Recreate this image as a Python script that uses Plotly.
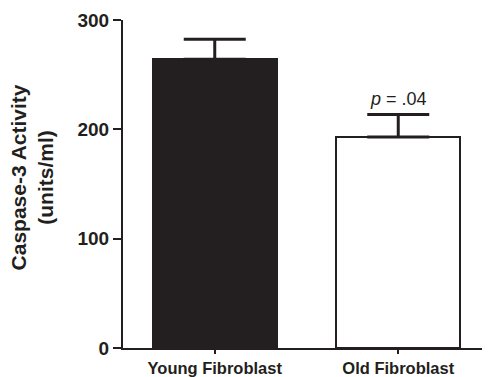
import plotly.graph_objects as go

categories = ["Young Fibroblast", "Old Fibroblast"]
means = [264, 193]
errors = [18.5, 20.5]
bar_colors = ["#231f20", "#ffffff"]
y_ticks = [0, 100, 200, 300]
p_label = "<i>p</i> = .04"

FONT = "Liberation Sans, Arial, Helvetica, sans-serif"
INK = "#231f20"

fig = go.Figure()
fig.add_trace(go.Bar(
    x=categories,
    y=means,
    width=0.674,
    marker=dict(color=bar_colors, line=dict(color=INK, width=2)),
    error_y=dict(type="data", array=errors, arrayminus=[0, 0], symmetric=False,
                 color=INK, thickness=3, width=31),
    showlegend=False,
    hoverinfo="skip",
))

fig.add_annotation(
    x=categories[1], y=means[1] + errors[1], xref="x", yref="y",
    text=p_label, showarrow=False, yanchor="bottom", yshift=4,
    font=dict(family=FONT, size=18, color=INK),
)

fig.add_annotation(
    x=0, y=0.52, xref="paper", yref="paper", xshift=-91,
    text="<b>Caspase-3 Activity<br>(units/ml)</b>", showarrow=False,
    textangle=-90, xanchor="center", yanchor="middle",
    font=dict(family=FONT, size=21, color=INK),
)

fig.update_layout(
    width=482, height=369,
    margin=dict(l=115, r=0, t=12, b=27),
    paper_bgcolor="white", plot_bgcolor="white",
    bargap=0,
    xaxis=dict(
        range=[-0.5, 1.5], showline=True, linecolor=INK, linewidth=2,
        ticks="outside", ticklen=4, tickwidth=2, tickcolor=INK,
        showgrid=False, zeroline=False,
        tickfont=dict(family=FONT, size=16.5, color=INK, weight="bold"),
    ),
    yaxis=dict(
        range=[0, 300], tickvals=y_ticks, showline=True, linecolor=INK, linewidth=2,
        ticks="outside", ticklen=8, tickwidth=2, tickcolor=INK,
        showgrid=False, zeroline=False,
        tickfont=dict(family=FONT, size=19, color=INK, weight="bold"),
    ),
)

fig.write_html("out.html")
